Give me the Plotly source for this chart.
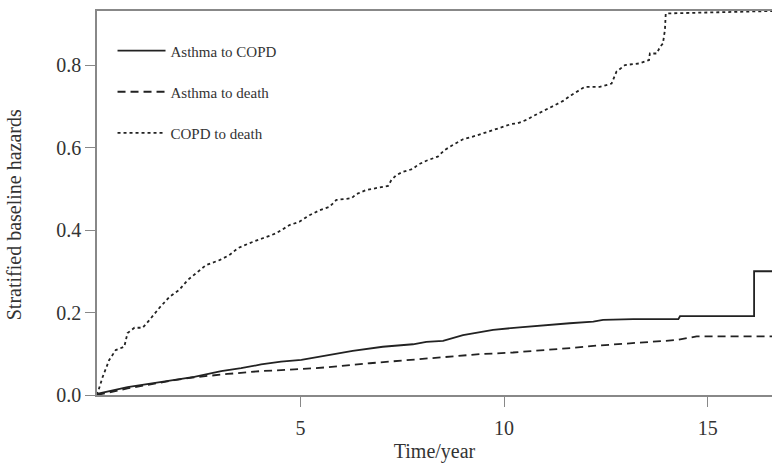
import plotly.graph_objects as go

# Asthma to COPD
t_ac = [0, 0.06, 0.75, 1.65, 2.39, 3.05, 3.54, 4.03, 4.52, 5.02, 5.47, 5.79, 6.28, 7.02, 7.76, 8.09, 8.50,
        8.99, 9.73, 10.38, 11.04, 11.61, 12.19, 12.43, 13.17, 14.28, 14.32, 16.14, 16.14, 16.6]
v_ac = [0, 0.004, 0.019, 0.032, 0.044, 0.058, 0.065, 0.074, 0.081, 0.085, 0.093, 0.099, 0.107, 0.117, 0.123,
        0.129, 0.131, 0.145, 0.158, 0.164, 0.170, 0.174, 0.178, 0.182, 0.184, 0.184, 0.191, 0.191, 0.300, 0.300]

# Asthma to death
t_ad = [0, 0.75, 1.90, 2.39, 3.21, 4.03, 4.85, 5.63, 6.70, 7.76, 8.58, 9.40, 10.22, 10.79, 11.53, 12.19,
        13.0, 13.83, 14.2, 14.56, 14.73, 16.6]
v_ad = [0, 0.016, 0.036, 0.043, 0.051, 0.058, 0.062, 0.067, 0.077, 0.085, 0.091, 0.099, 0.103, 0.107, 0.113,
        0.119, 0.124, 0.129, 0.133, 0.139, 0.142, 0.142]

# COPD to death
t_cd = [0, 0.14, 0.30, 0.46, 0.67, 0.75, 0.92, 1.12, 1.29, 1.53, 1.78, 2.02, 2.23, 2.43, 2.68, 3.01, 3.25,
        3.46, 3.74, 4.07, 4.40, 4.73, 4.97, 5.22, 5.47, 5.71, 5.88, 6.25, 6.37, 6.61, 6.86, 7.15, 7.23, 7.35,
        7.51, 7.76, 7.88, 8.09, 8.37, 8.54, 8.74, 8.99, 9.32, 9.60, 9.89, 10.18, 10.34, 10.55, 10.71, 10.88,
        11.08, 11.29, 11.45, 11.65, 11.98, 12.35, 12.64, 12.76, 12.97, 13.33, 13.56, 13.58, 13.75, 13.83,
        13.90, 13.95, 13.97, 16.6]
v_cd = [0, 0.044, 0.085, 0.109, 0.117, 0.150, 0.163, 0.163, 0.182, 0.211, 0.238, 0.255, 0.279, 0.295, 0.315,
        0.327, 0.339, 0.356, 0.368, 0.380, 0.392, 0.412, 0.420, 0.436, 0.448, 0.456, 0.473, 0.477, 0.487,
        0.497, 0.501, 0.507, 0.521, 0.533, 0.541, 0.548, 0.558, 0.568, 0.578, 0.594, 0.606, 0.620, 0.629,
        0.638, 0.646, 0.657, 0.659, 0.667, 0.676, 0.684, 0.695, 0.705, 0.713, 0.727, 0.747, 0.747, 0.755,
        0.784, 0.800, 0.804, 0.812, 0.828, 0.828, 0.844, 0.852, 0.885, 0.925, 0.931]

x_ticks = [5, 10, 15]
y_ticks = [0.0, 0.2, 0.4, 0.6, 0.8]
y_tick_text = ["0.0", "0.2", "0.4", "0.6", "0.8"]

FONT = "Liberation Serif"
LC = "#222222"
TXT = "#333333"

fig = go.Figure()
fig.add_trace(go.Scatter(x=t_ac, y=v_ac, mode="lines", name="Asthma to COPD", legend="legend",
                         line=dict(color=LC, width=1.8, dash="solid")))
fig.add_trace(go.Scatter(x=t_ad, y=v_ad, mode="lines", name="Asthma to death", legend="legend2",
                         line=dict(color=LC, width=1.8, dash="8px,5px")))
fig.add_trace(go.Scatter(x=t_cd, y=v_cd, mode="lines", name="COPD to death", legend="legend3",
                         line=dict(color=LC, width=1.8, dash="3px,3px")))

leg_common = dict(x=0.023, xanchor="left", yanchor="middle", bgcolor="rgba(0,0,0,0)",
                  font=dict(family=FONT, size=15, color=TXT), itemwidth=48)

fig.update_layout(
    width=772, height=466,
    margin=dict(l=97, r=0, t=11, b=71),
    paper_bgcolor="white", plot_bgcolor="white",
    font=dict(family=FONT, color=TXT),
    showlegend=True,
    legend=dict(y=0.896, **leg_common),
    legend2=dict(y=0.789, **leg_common),
    legend3=dict(y=0.682, **leg_common),
    xaxis=dict(range=[0, 16.58], tickvals=x_ticks, ticks="outside", ticklen=10, tickcolor="#888888",
               showline=True, linecolor="#888888", linewidth=1.5, mirror=True, showgrid=False,
               zeroline=False, tickfont=dict(size=20, family=FONT, color=TXT), ticklabelstandoff=4,
               title=dict(text="Time/year", font=dict(size=20, family=FONT, color=TXT), standoff=6)),
    yaxis=dict(range=[0, 0.931], tickvals=y_ticks, ticktext=y_tick_text, ticks="outside", ticklen=10,
               tickcolor="#888888", showline=True, linecolor="#888888", linewidth=1.5, showgrid=False,
               zeroline=False, tickfont=dict(size=20, family=FONT, color=TXT)),
    annotations=[dict(text="Stratified baseline hazards", xref="paper", yref="paper", x=0, y=0.468,
                      xanchor="center", yanchor="middle", xshift=-83, textangle=-90, showarrow=False,
                      font=dict(size=20, family=FONT, color=TXT))],
)

fig.write_html("out.html")
